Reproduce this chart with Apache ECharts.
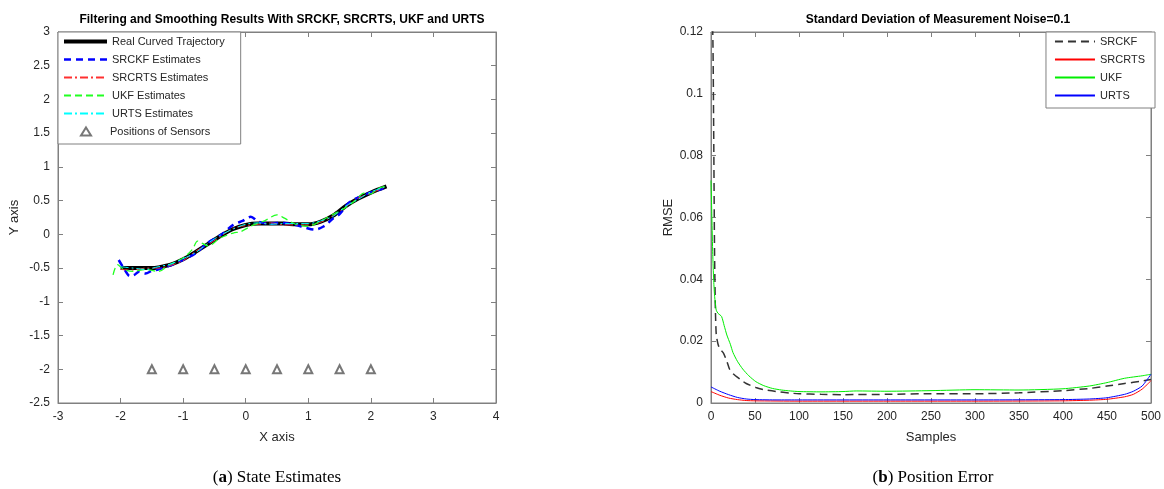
<!DOCTYPE html>
<html>
<head>
<meta charset="utf-8">
<script src="https://cdn.jsdelivr.net/npm/echarts@6/dist/echarts.min.js"></script>
<style>
  html, body { margin: 0; padding: 0; background: #fff; }
  #main { width: 1164px; height: 489px; }
</style>
</head>
<body>
<div id="main"></div>
<script>
// (a) state estimates: real trajectory and the estimates
var trajX = [-2.0, -1.8, -1.6, -1.5, -1.4, -1.2, -1.0, -0.8, -0.6, -0.4, -0.2, 0, 0.2, 0.4, 0.6, 0.8, 1.0, 1.2, 1.4, 1.6, 1.8, 2.0, 2.25];
var trajY = [-0.5, -0.5, -0.5, -0.5, -0.49, -0.45, -0.37, -0.26, -0.14, -0.02, 0.08, 0.14, 0.16, 0.16, 0.16, 0.15, 0.15, 0.19, 0.28, 0.42, 0.53, 0.62, 0.71];

var srckfX = [-2.03, -1.95, -1.85, -1.78, -1.7, -1.6, -1.5, -1.4, -1.2, -1.0, -0.8, -0.6, -0.4, -0.2, -0.05, 0.08, 0.2, 0.35, 0.56, 0.8, 0.95, 1.1, 1.25, 1.4, 1.5, 1.65, 1.8, 2.0, 2.2];
var srckfY = [-0.38, -0.5, -0.62, -0.6, -0.55, -0.58, -0.54, -0.52, -0.46, -0.38, -0.28, -0.12, -0.01, 0.14, 0.2, 0.26, 0.19, 0.16, 0.17, 0.14, 0.1, 0.07, 0.12, 0.24, 0.3, 0.47, 0.55, 0.62, 0.68];

var srcrtsX = [-2.0, -1.8, -1.6, -1.4, -1.2, -1.0, -0.8, -0.6, -0.4, -0.2, 0, 0.2, 0.4, 0.6, 0.8, 1.0, 1.2, 1.4, 1.6, 1.8, 2.0, 2.22];
var srcrtsY = [-0.52, -0.53, -0.5, -0.5, -0.46, -0.39, -0.25, -0.15, -0.03, 0.09, 0.13, 0.15, 0.17, 0.14, 0.14, 0.14, 0.18, 0.28, 0.41, 0.54, 0.61, 0.7];

var ukfX = [-2.12, -2.05, -1.95, -1.8, -1.6, -1.4, -1.2, -1.0, -0.85, -0.77, -0.6, -0.4, -0.2, -0.08, 0.1, 0.3, 0.5, 0.62, 0.8, 1.0, 1.2, 1.4, 1.6, 1.75, 1.89, 2.0, 2.1, 2.25];
var ukfY = [-0.6, -0.45, -0.52, -0.55, -0.52, -0.55, -0.44, -0.35, -0.22, -0.1, -0.17, -0.05, 0.02, 0.04, 0.13, 0.2, 0.29, 0.24, 0.15, 0.12, 0.2, 0.3, 0.4, 0.5, 0.61, 0.6, 0.67, 0.72];

var urtsX = [-2.0, -1.8, -1.6, -1.4, -1.2, -1.0, -0.8, -0.6, -0.4, -0.2, 0, 0.2, 0.4, 0.6, 0.8, 1.0, 1.2, 1.4, 1.6, 1.8, 2.0, 2.22];
var urtsY = [-0.48, -0.5, -0.52, -0.48, -0.44, -0.36, -0.27, -0.13, -0.01, 0.08, 0.15, 0.17, 0.15, 0.16, 0.16, 0.16, 0.2, 0.27, 0.42, 0.52, 0.63, 0.7];

var sensorX = [-1.5, -1, -0.5, 0, 0.5, 1, 1.5, 2];
var sensorY = [-2, -2, -2, -2, -2, -2, -2, -2];

// (b) position error (RMSE against samples)
var rmseSrckf = [[0, 0.13], [2, 0.12], [3, 0.09], [4, 0.05], [5, 0.03], [6, 0.022], [8, 0.019], [10, 0.0175], [14, 0.0162], [18, 0.0135], [21, 0.011], [25, 0.0095], [33, 0.0077], [40, 0.0063], [51, 0.005], [60, 0.0043], [74, 0.0037], [90, 0.0032], [100, 0.003], [125, 0.0028], [150, 0.0027], [200, 0.0028], [250, 0.003], [300, 0.003], [350, 0.0033], [400, 0.004], [430, 0.0047], [450, 0.0055], [470, 0.0063], [490, 0.0071], [500, 0.0076]];
var rmseUkf = [[0, 0.072], [1, 0.06], [2, 0.048], [3, 0.04], [4, 0.035], [5, 0.032], [6, 0.03], [8, 0.029], [12, 0.028], [15, 0.025], [18, 0.022], [22, 0.019], [25, 0.0163], [30, 0.0135], [36, 0.011], [43, 0.0088], [51, 0.0069], [60, 0.0056], [70, 0.0047], [80, 0.0042], [90, 0.0039], [100, 0.0037], [125, 0.0036], [150, 0.0037], [165, 0.0039], [200, 0.0038], [250, 0.004], [300, 0.0043], [350, 0.0042], [400, 0.0046], [430, 0.0055], [450, 0.0066], [470, 0.008], [490, 0.0088], [500, 0.0093]];
var rmseUrts = [[0, 0.0052], [10, 0.0038], [20, 0.0027], [30, 0.0018], [40, 0.0013], [50, 0.0011], [75, 0.001], [100, 0.001], [200, 0.001], [300, 0.001], [400, 0.0011], [430, 0.0013], [450, 0.0017], [470, 0.0028], [480, 0.0038], [490, 0.0055], [500, 0.0093]];
var rmseSrcrts = [[0, 0.0037], [10, 0.0025], [20, 0.0016], [30, 0.0011], [40, 0.0008], [50, 0.0007], [100, 0.0006], [200, 0.0006], [300, 0.0006], [400, 0.0007], [430, 0.0009], [450, 0.0012], [470, 0.002], [480, 0.0028], [490, 0.0045], [500, 0.0072]];

var zip = function (xs, ys) {
    var out = [];
    for (var i = 0; i < xs.length; i++) {
        out.push([xs[i], ys[i]]);
    }
    return out;
};

var axisGray = '#808080';
var labelColor = '#262626';
var dashDot = [8, 3, 2, 3];

// MATLAB style box: main axis plus a mirrored one that only carries ticks
var boxAxis = function (extra) {
    var ax = {
        type: 'value',
        axisLine: { show: true, onZero: false, lineStyle: { color: axisGray, width: 1 } },
        axisTick: { show: true, inside: true, length: 5, lineStyle: { color: axisGray } },
        axisLabel: { color: labelColor, fontSize: 12, fontFamily: 'Liberation Sans' },
        splitLine: { show: false },
        nameTextStyle: { color: labelColor, fontSize: 13, fontFamily: 'Liberation Sans' }
    };
    for (var k in extra) ax[k] = extra[k];
    return ax;
};

var legendText = { fontSize: 11, color: labelColor, fontFamily: 'Liberation Sans' };

var myChart = echarts.init(document.getElementById('main'));
var option = {
    animation: false,
    backgroundColor: '#fff',
    title: [{
        text: 'Filtering and Smoothing Results With SRCKF, SRCRTS, UKF and URTS',
        left: 277, top: 9, textAlign: 'center',
        textStyle: { fontSize: 12, fontWeight: 'bold', color: '#000', fontFamily: 'Liberation Sans' }
    }, {
        text: 'Standard Deviation of Measurement Noise=0.1',
        left: 933, top: 9, textAlign: 'center',
        textStyle: { fontSize: 12, fontWeight: 'bold', color: '#000', fontFamily: 'Liberation Sans' }
    }],
    grid: [
        { left: 58, top: 32, width: 438, height: 371, show: true, borderColor: axisGray, borderWidth: 1 },
        { left: 711, top: 32, width: 444, height: 371, show: true, borderColor: axisGray, borderWidth: 1 }
    ],
    xAxis: [
        boxAxis({ gridIndex: 0, min: -3, max: 4, interval: 1, name: 'X axis', nameLocation: 'middle', nameGap: 28 }),
        boxAxis({ gridIndex: 0, min: -3, max: 4, interval: 1, position: 'top', axisLabel: { show: false } }),
        boxAxis({ gridIndex: 1, min: 0, max: 500, interval: 50, name: 'Samples', nameLocation: 'middle', nameGap: 28 }),
        boxAxis({ gridIndex: 1, min: 0, max: 500, interval: 50, position: 'top', axisLabel: { show: false } })
    ],
    yAxis: [
        boxAxis({ gridIndex: 0, min: -2.5, max: 3, interval: 0.5, name: 'Y axis', nameLocation: 'middle', nameGap: 37 }),
        boxAxis({ gridIndex: 0, min: -2.5, max: 3, interval: 0.5, position: 'right', axisLabel: { show: false } }),
        boxAxis({ gridIndex: 1, min: 0, max: 0.12, interval: 0.02, name: 'RMSE', nameLocation: 'middle', nameGap: 36 }),
        boxAxis({ gridIndex: 1, min: 0, max: 0.12, interval: 0.02, position: 'right', axisLabel: { show: false } })
    ],
    legend: [{
        left: 58, top: 32, orient: 'vertical',
        itemWidth: 43, itemHeight: 8, itemGap: 7,
        padding: [4, 16, 25, 4],
        backgroundColor: '#fff', borderColor: axisGray, borderWidth: 1,
        selectedMode: false,
        itemStyle: { opacity: 0 },
        textStyle: legendText,
        data: [
            { name: 'Real Curved Trajectory', lineStyle: { width: 4 } },
            { name: 'SRCKF Estimates', lineStyle: { width: 2.5 } },
            'SRCRTS Estimates', 'UKF Estimates', 'URTS Estimates'
        ]
    }, {
        // sensors row sits in the bottom of the box above, with a small icon
        left: 80, top: 126, orient: 'vertical',
        itemWidth: 10, itemHeight: 8,
        padding: 0,
        selectedMode: false,
        textStyle: { fontSize: 11, color: labelColor, fontFamily: 'Liberation Sans', padding: [0, 0, 0, 14] },
        data: [{ name: 'Positions of Sensors', icon: 'emptyTriangle' }]
    }, {
        right: 9, top: 32, orient: 'vertical',
        itemWidth: 40, itemHeight: 8, itemGap: 7,
        padding: [4, 10, 7, 8],
        backgroundColor: '#fff', borderColor: axisGray, borderWidth: 1,
        selectedMode: false,
        itemStyle: { opacity: 0 },
        textStyle: legendText,
        data: ['SRCKF', 'SRCRTS', 'UKF', 'URTS']
    }],
    graphic: [{
        type: 'text', x: 277, y: 478,
        style: {
            text: '({b|a}) State Estimates', textAlign: 'center', textVerticalAlign: 'middle',
            font: '17px "Liberation Serif"', fill: '#000',
            rich: { b: { fontWeight: 'bold', fontSize: 17, fontFamily: 'Liberation Serif' } }
        }
    }, {
        type: 'text', x: 933, y: 478,
        style: {
            text: '({b|b}) Position Error', textAlign: 'center', textVerticalAlign: 'middle',
            font: '17px "Liberation Serif"', fill: '#000',
            rich: { b: { fontWeight: 'bold', fontSize: 17, fontFamily: 'Liberation Serif' } }
        }
    }],
    series: [{
        name: 'Real Curved Trajectory', type: 'line', xAxisIndex: 0, yAxisIndex: 0,
        data: zip(trajX, trajY), symbol: 'none', smooth: 0.3,
        lineStyle: { color: '#000', width: 4 }, itemStyle: { color: '#000' }
    }, {
        name: 'SRCKF Estimates', type: 'line', xAxisIndex: 0, yAxisIndex: 0,
        data: zip(srckfX, srckfY), symbol: 'none', smooth: 0.3,
        lineStyle: { color: '#0000ff', width: 2.5, type: [7, 5] }, itemStyle: { color: '#0000ff' }
    }, {
        name: 'SRCRTS Estimates', type: 'line', xAxisIndex: 0, yAxisIndex: 0,
        data: zip(srcrtsX, srcrtsY), symbol: 'none', smooth: 0.3,
        lineStyle: { color: '#ff3030', width: 1, type: dashDot }, itemStyle: { color: '#ff3030' }
    }, {
        name: 'UKF Estimates', type: 'line', xAxisIndex: 0, yAxisIndex: 0,
        data: zip(ukfX, ukfY), symbol: 'none', smooth: 0.3,
        lineStyle: { color: '#22ff22', width: 1.3, type: [7, 4] }, itemStyle: { color: '#22ff22' }
    }, {
        name: 'URTS Estimates', type: 'line', xAxisIndex: 0, yAxisIndex: 0,
        data: zip(urtsX, urtsY), symbol: 'none', smooth: 0.3,
        lineStyle: { color: '#00ffff', width: 1, type: dashDot }, itemStyle: { color: '#00ffff' }
    }, {
        name: 'Positions of Sensors', type: 'scatter', xAxisIndex: 0, yAxisIndex: 0,
        data: zip(sensorX, sensorY), symbol: 'emptyTriangle', symbolSize: 8,
        itemStyle: { color: '#555', borderColor: '#555', borderWidth: 1.3 }
    }, {
        name: 'SRCKF', type: 'line', xAxisIndex: 2, yAxisIndex: 2,
        data: rmseSrckf, symbol: 'none', smooth: 0.2,
        lineStyle: { color: '#333', width: 1.5, type: [8, 5] }, itemStyle: { color: '#333' }
    }, {
        name: 'SRCRTS', type: 'line', xAxisIndex: 2, yAxisIndex: 2,
        data: rmseSrcrts, symbol: 'none', smooth: 0.2,
        lineStyle: { color: '#ff0000', width: 1 }, itemStyle: { color: '#ff0000' }
    }, {
        name: 'UKF', type: 'line', xAxisIndex: 2, yAxisIndex: 2,
        data: rmseUkf, symbol: 'none', smooth: 0.2,
        lineStyle: { color: '#00ee00', width: 1 }, itemStyle: { color: '#00ee00' }
    }, {
        name: 'URTS', type: 'line', xAxisIndex: 2, yAxisIndex: 2,
        data: rmseUrts, symbol: 'none', smooth: 0.2,
        lineStyle: { color: '#0000ff', width: 1 }, itemStyle: { color: '#0000ff' }
    }]
};
myChart.setOption(option);
</script>
</body>
</html>
